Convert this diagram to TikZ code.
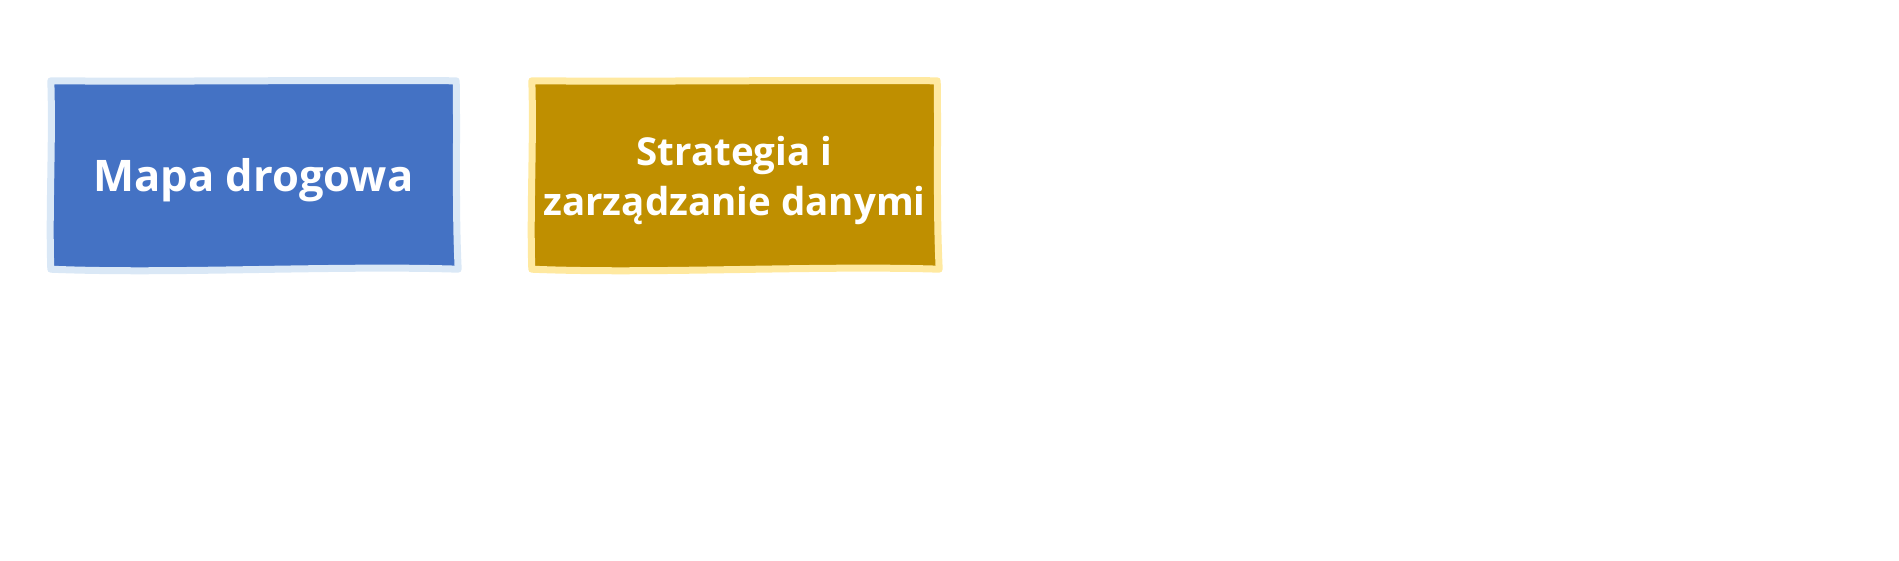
\documentclass[tikz,border=0pt]{standalone}
\usepackage{fontspec}
\setmainfont{Open Sans}
\usetikzlibrary{backgrounds,calc}
\definecolor{bluefill}{HTML}{4472C4}
\definecolor{blueedge}{HTML}{DAE8F6}
\definecolor{goldfill}{HTML}{BF8F00}
\definecolor{goldedge}{HTML}{FFE9A0}
\newcommand\wobblybox[1]{%
  ($(#1.north west)$)
  .. controls ($(#1.north west)+(130,1)$) and ($(#1.north east)+(-130,-1)$) .. ($(#1.north east)$)
  .. controls ($(#1.north east)+(1,60)$) and ($(#1.south east)+(-1,-60)$) .. ($(#1.south east)+(2,0)$)
  .. controls ($(#1.south east)+(-120,-4)$) and ($(#1.south west)+(120,5)$) .. ($(#1.south west)$)
  .. controls ($(#1.south west)+(-2,-60)$) and ($(#1.north west)+(2,60)$) .. ($(#1.north west)$) -- cycle}
\begin{document}
\begin{tikzpicture}[x=1pt,y=-1pt,
  boxtext/.style={text=white,align=center,
    minimum width=405pt,minimum height=188pt,inner sep=0pt},
  blueshape/.style={draw=blueedge,fill=bluefill,line width=7pt,line join=round},
  goldshape/.style={draw=goldedge,fill=goldfill,line width=7pt,line join=round}]
\useasboundingbox (0,0) rectangle (1899,560);
\node[boxtext,font=\bfseries\fontsize{43.5}{50}\selectfont,text depth=0pt] (mapa) at (253.5,175) {};
\node[text=white,font=\bfseries\fontsize{43.5}{50}\selectfont,inner sep=0pt] (mapalabel) at (253.5,180) {Mapa drogowa};
\node[boxtext,font=\bfseries\fontsize{38.5}{50}\selectfont] (strat) at (734.5,175) {};
\node[text=white,align=center,font=\bfseries\fontsize{38.5}{50}\selectfont,inner sep=0pt] (stratlabel) at (734.5,180) {Strategia i\\zarządzanie danymi};
\begin{scope}[on background layer]
  \path[blueshape] \wobblybox{mapa};
  \path[goldshape] \wobblybox{strat};
\end{scope}
\end{tikzpicture}
\end{document}
